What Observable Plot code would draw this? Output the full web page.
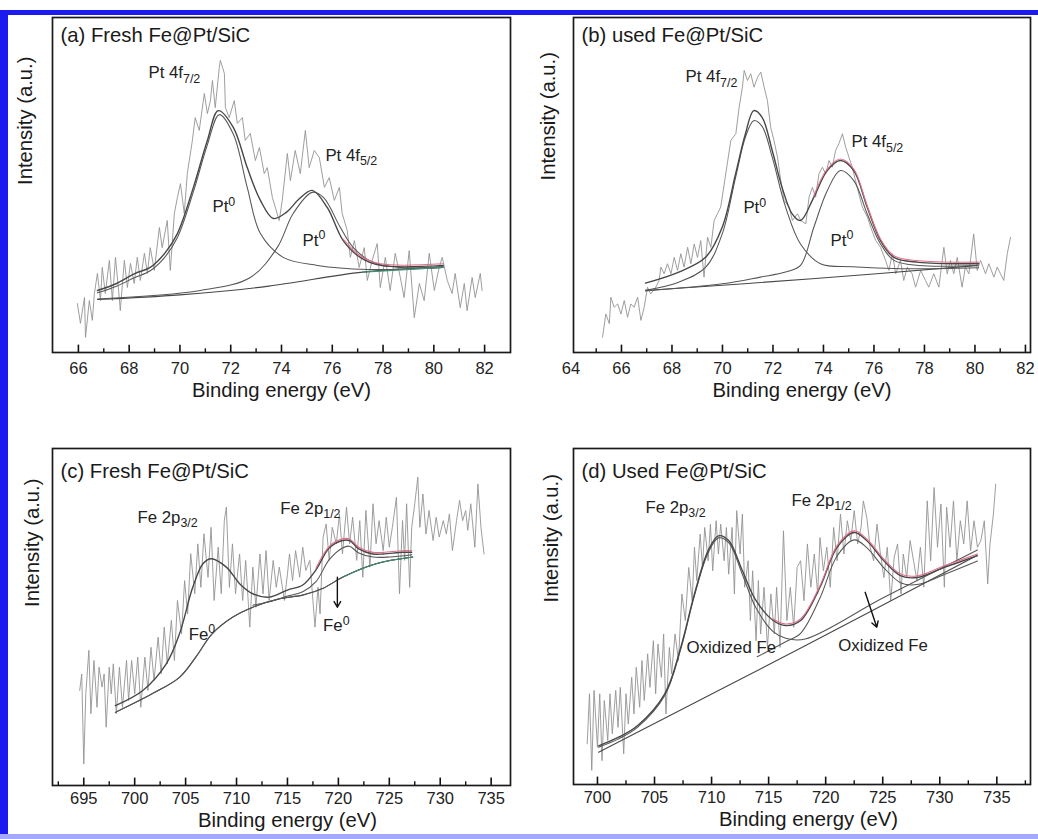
<!DOCTYPE html>
<html><head><meta charset="utf-8">
<script src="https://cdn.jsdelivr.net/npm/d3@7"></script>
<script src="https://cdn.jsdelivr.net/npm/@observablehq/plot@0.6"></script>
<style>
body{margin:0;background:#fff;}
#wrap{position:relative;width:1038px;height:839px;overflow:hidden;background:#fff;font-family:"Liberation Sans",Arial,sans-serif;}
.panel{position:absolute;}
.bar{position:absolute;}
</style></head><body>
<div id="wrap">
 <div class="bar" style="left:0;top:10px;width:1038px;height:5px;background:#1b1bf0"></div>
 <div class="bar" style="left:0;top:10px;width:8px;height:829px;background:#1b1bf0"></div>
 <div class="bar" style="left:0;top:834px;width:1038px;height:5px;background:#a4a8ff"></div>
</div>
<script>
// ---------------- DATA (binding energy eV, intensity a.u.) ----------------
const rawA = [[65.96,14.6],[66.08,8.7],[66.24,16.4],[66.28,4.5],[66.43,15.5],[66.55,9.6],[66.63,17.6],[66.75,23.6],[66.87,15.5],[66.94,25.4],[67.06,17.6],[67.22,27.5],[67.34,15.5],[67.46,28.4],[67.61,16.4],[67.65,12.5],[67.81,27.5],[67.93,19.4],[68.05,26.6],[68.2,20.6],[68.32,28.4],[68.44,21.5],[68.6,29.6],[68.72,23.6],[68.83,31.3],[68.99,24.5],[69.19,37.3],[69.3,31.3],[69.5,39.4],[69.62,24.5],[69.78,41.5],[69.9,46.3],[70.02,50.4],[70.17,41.5],[70.29,53.4],[70.49,63.3],[70.6,70.1],[70.76,66.3],[70.96,77.3],[71.08,71.3],[71.2,75.2],[71.28,81.2],[71.39,73.1],[71.55,85.1],[71.59,87.2],[71.75,83.3],[71.79,73.1],[71.94,70.1],[72.14,75.2],[72.26,68.4],[72.46,70.1],[72.57,63.3],[72.77,65.4],[72.97,57.3],[73.13,61.2],[73.32,53.4],[73.44,55.2],[73.64,46.3],[73.91,39.4],[74.03,45.4],[74.23,59.4],[74.35,51.3],[74.54,60.3],[74.74,53.4],[74.94,66.3],[75.09,55.2],[75.29,60.3],[75.49,58.2],[75.69,49.3],[75.88,52.2],[76.08,45.4],[76.28,49.3],[76.39,41.5],[76.59,36.4],[76.71,28.4],[76.87,33.4],[77.06,25.4],[77.26,31.3],[77.38,21.5],[77.57,27.5],[77.77,32.5],[77.89,19.4],[78.09,28.4],[78.28,18.5],[78.48,29.6],[78.68,22.4],[78.83,16.4],[79.03,30.4],[79.23,10.4],[79.43,20.6],[79.62,15.5],[79.82,29.6],[80.02,18.5],[80.21,25.4],[80.33,28.4],[80.53,21.5],[80.72,17.6],[80.84,23.6],[81.04,13.4],[81.2,20.6],[81.31,12.5],[81.51,22.4],[81.63,16.4],[81.83,23.6],[81.9,18.5]];
const envA = [[66.75,18.5],[67.5,20.6],[68.2,23.5],[68.83,25.4],[69.4,29.6],[69.9,35.5],[70.53,49.3],[71.08,63.3],[71.51,72.2],[72.1,67.2],[72.65,55.2],[73.17,45.4],[73.68,40],[74.2,41.9],[74.7,45.9],[75.21,48.4],[75.8,43.3],[76.43,33.4],[77.1,28.4],[77.9,26],[80.37,26]];
const pk1A = [[66.75,17.8],[67.5,19.8],[68.2,22.3],[68.83,24.4],[69.4,28.4],[69.9,34.3],[70.53,48],[71.08,62],[71.55,71],[72.1,65.2],[72.65,49.3],[73.17,35.5],[74.07,28.4],[75.41,26],[77.38,24.8],[80.37,25.4]];
const pk2A = [[66.75,16],[70.8,18.5],[72.77,22.4],[73.83,31.3],[74.46,41.5],[75.21,47.8],[75.65,46.3],[76.32,37.3],[76.83,31.3],[77.61,26.9],[78.68,25.4],[80.37,25.7]];
const bgA = [[66.75,15.8],[70,17.2],[73.5,19.8],[77.2,24],[80.37,25.4]];

const rawB = [[65.25,4.6],[65.38,11.5],[65.52,8.6],[65.58,16.5],[65.71,13.5],[65.85,14.5],[65.98,11.5],[66.11,15.5],[66.24,10.5],[66.37,14.5],[66.5,13.5],[66.64,16.5],[66.77,9.6],[66.9,13.5],[67.03,19.5],[67.16,17.5],[67.36,19.5],[67.49,21.5],[67.56,25.5],[67.69,23.5],[67.82,26.5],[67.96,23.5],[68.09,28.4],[68.22,24.5],[68.35,29.5],[68.48,25.5],[68.62,31.4],[68.75,26.5],[68.88,32.4],[69.01,28.4],[69.14,33.4],[69.27,22.5],[69.41,34.4],[69.54,31.4],[69.67,39.4],[69.8,41.4],[69.93,43.4],[70.13,53.3],[70.33,63.3],[70.53,65.3],[70.66,73.2],[70.79,79.2],[70.86,84.2],[70.99,81.2],[71.12,83.2],[71.25,79.2],[71.39,82.2],[71.52,83.7],[71.65,79.2],[71.78,75.2],[71.91,67.2],[72.04,63.3],[72.18,58.3],[72.31,51.3],[72.44,45.4],[72.64,43.4],[72.77,39.4],[72.97,41.4],[73.1,39.4],[73.3,38.4],[73.43,46.4],[73.56,49.3],[73.69,46.4],[73.82,53.3],[73.96,55.3],[74.09,53.3],[74.22,57.3],[74.35,55.3],[74.48,60.3],[74.61,62.3],[74.75,65.3],[74.88,61.3],[75.01,58.3],[75.14,55.3],[75.27,51.3],[75.4,47.4],[75.54,43.4],[75.74,40.4],[75.87,37.4],[76.07,33.4],[76.26,31.4],[76.46,27.5],[76.59,24.5],[76.73,29.5],[76.86,23.5],[77.05,27.5],[77.18,21.5],[77.32,25.5],[77.51,23.5],[77.65,19.5],[77.85,24.5],[78.04,21.5],[78.17,19.5],[78.37,23.5],[78.57,19.5],[78.77,31.4],[78.9,23.5],[79.03,27.5],[79.16,23.5],[79.3,28.4],[79.49,19.5],[79.62,25.5],[79.76,23.5],[79.95,35.4],[80.09,24.5],[80.22,27.5],[80.42,23.5],[80.55,26.5],[80.75,22.5],[80.88,25.5],[81.01,23.5],[81.14,21.5],[81.28,29.5],[81.41,34.4]];
const envB = [[66.95,20.7],[68.27,24],[69.33,28.4],[69.99,37.4],[70.52,53.3],[70.91,65.3],[71.24,72.2],[71.57,70.2],[71.97,60.3],[72.36,49.3],[72.76,41.4],[73.09,39.4],[73.62,46.4],[74.15,54.3],[74.67,57.3],[75.2,54.3],[75.73,43.4],[76.26,33.4],[76.79,28.4],[77.77,26.9],[80.14,26.5]];
const pk1B = [[66.95,18.6],[68.27,21],[69.33,25.4],[69.99,35.4],[70.52,52.3],[70.91,64.3],[71.24,69.2],[71.57,67.5],[71.97,58.3],[72.5,43.4],[73.09,32.4],[73.88,26.5],[75.13,25.6],[77.1,25],[80.14,25.3]];
const pk2B = [[66.95,18.4],[70,20.5],[71.5,22.5],[72.5,24],[73.09,26],[73.62,37.4],[74.15,48.3],[74.67,54.3],[75.2,51.3],[75.73,41.4],[76.26,32.4],[76.79,27.5],[77.77,26],[80.14,26]];
const bgB = [[66.95,18.5],[73.55,22],[80.14,26]];

const rawC = [[694.6,28.2],[694.8,33.1],[695.0,6.4],[695.2,27.2],[695.5,40.1],[695.7,21.3],[696.0,37.1],[696.3,23.2],[696.5,35.1],[696.8,29.2],[697.0,33.1],[697.2,17.3],[697.5,35.1],[697.7,27.2],[697.9,36.1],[698.2,21.3],[698.5,35.1],[698.8,23.2],[699.2,37.1],[699.4,25.2],[699.7,37.1],[700.0,27.2],[700.3,38.1],[700.6,23.2],[701.0,38.1],[701.3,28.2],[701.6,41],[701.9,31.2],[702.3,44],[702.6,33.1],[702.9,47],[703.2,36.1],[703.6,49],[703.9,37.1],[704.2,54.9],[704.6,45],[704.9,60.8],[705.2,50.9],[705.5,68.8],[705.9,56.9],[706.2,71.7],[706.5,58.8],[706.8,74.7],[707.2,61.8],[707.5,76.6],[707.8,54.9],[708.2,70.7],[708.5,56.9],[708.8,78.6],[709.0,82.6],[709.3,58.8],[709.6,71.7],[709.9,56.9],[710.3,68.7],[710.6,54.9],[710.9,66.8],[711.3,47],[711.6,64.8],[711.9,52.9],[712.3,68.7],[712.6,56.9],[712.9,69.7],[713.2,54.9],[713.6,66.8],[713.9,58.8],[714.2,64.8],[714.7,54.9],[715.0,62.8],[715.2,68.7],[715.5,60.8],[715.8,69.7],[716.2,61.8],[716.5,70.7],[716.8,63.8],[717.2,66.8],[717.5,54.9],[717.7,47],[718.0,58.8],[718.2,50.9],[718.5,73.7],[718.8,77.6],[719.1,66.8],[719.4,76.6],[719.8,71.7],[720.1,80.6],[720.4,68.7],[720.8,82.6],[721.1,71.7],[721.4,79.6],[721.8,66.8],[722.1,78.6],[722.4,61.8],[722.7,81.6],[723.1,64.8],[723.4,83.6],[723.7,71.7],[724.0,78.6],[724.4,69.7],[724.7,79.6],[725.0,70.7],[725.3,76.6],[725.7,85.5],[726.0,56.9],[726.3,78.6],[726.5,66.8],[726.7,83.6],[727.0,58.8],[727.2,76.6],[727.5,83.6],[727.8,91.5],[728.0,76.6],[728.3,86.5],[728.6,74.6],[728.9,81.6],[729.3,72.7],[729.6,79.6],[729.9,73.7],[730.3,78.6],[730.6,74.6],[730.9,80.6],[731.2,69.7],[731.6,78.6],[731.9,84.6],[732.2,78.6],[732.5,81.6],[732.7,75.7],[733.0,83.6],[733.4,70.7],[733.7,89.5],[734.0,76.6],[734.3,68.7]];
const envC = [[698.1,23.7],[700.8,28.2],[703.1,36.1],[704.4,45],[705.7,58.8],[706.7,65.8],[707.5,67.3],[709.0,64.8],[710.3,59.9],[711.6,56.9],[713.2,55.9],[715.0,58],[716.5,59.5],[717.8,64],[719.1,70.5],[720.4,72.7],[721.1,72.7],[722.0,70.2],[723.4,68.7],[724.4,68.7],[726.3,69.2],[727.2,69.2]];
const compC = [[711.6,53.5],[713.2,54.5],[715.0,56.2],[716.5,57.5],[717.8,60.5],[719.1,67],[720.4,70.5],[721.1,71],[722.0,69],[723.4,67.8],[725,67.8],[727.2,68.5]];
const fe0C = [[698.1,21.7],[701.7,27.2],[704.4,32.1],[706.0,38.1],[707.6,45],[709.6,49.9],[711.6,52.9],[714.2,55.4],[716.5,56.5],[718.5,58.5],[720.4,61.8],[723.7,65.8],[727.3,67.8]];

const rawD = [[699.1,12.1],[699.3,27],[699.5,4.2],[699.7,28],[700.0,11.1],[700.2,27],[700.4,7.1],[700.6,25],[700.9,13.1],[701.1,27],[701.3,15.1],[701.6,28],[701.8,17],[702.0,28.9],[702.3,9.1],[702.5,27],[702.7,18],[703.0,31.9],[703.2,21],[703.4,34.9],[703.7,23],[703.9,36.9],[704.1,25],[704.4,38.9],[704.6,28.9],[704.9,42.8],[705.1,27],[705.3,41.8],[705.6,31.9],[705.8,44.8],[706.0,21],[706.3,40.8],[706.5,32.9],[706.8,44.8],[707.1,36.9],[707.4,56.7],[707.7,48.8],[708.0,64.6],[708.3,54.7],[708.5,70.6],[708.7,60.7],[709.0,74.5],[709.2,64.6],[709.4,76.5],[709.7,66.6],[709.9,77.5],[710.1,63.6],[710.4,78.5],[710.6,68.6],[710.8,77.5],[711.1,66.6],[711.3,76.5],[711.5,62.6],[711.8,76.5],[712.0,56.7],[712.2,81.5],[712.5,68.6],[712.7,80.5],[712.9,58.7],[713.2,66.6],[713.4,48.8],[713.6,63.6],[713.9,42.8],[714.1,60.7],[714.3,44.8],[714.6,58.7],[714.9,40.8],[715.2,56.7],[715.5,44.8],[715.7,58.7],[716.0,40.8],[716.3,75.5],[716.6,48.8],[716.9,58.7],[717.2,46.8],[717.5,64.6],[717.8,66.6],[718.1,54.7],[718.4,71.6],[718.7,58.7],[719.0,68.6],[719.3,56.7],[719.5,73.5],[719.8,63.6],[720.1,70.6],[720.4,58.7],[720.7,76.5],[721.0,66.6],[721.3,80.5],[721.6,68.6],[721.9,78.5],[722.2,72.6],[722.5,81.5],[722.8,71.6],[723.1,76.5],[723.3,84.4],[723.6,79.5],[723.9,70.6],[724.2,66.6],[724.5,77.5],[724.8,68.6],[725.1,61.6],[725.4,70.6],[725.7,54.7],[726.0,67.6],[726.3,71.6],[726.6,56.7],[726.8,68.6],[727.1,61.6],[727.4,72.6],[727.7,66.6],[728.0,60.7],[728.3,70.6],[728.6,58.7],[728.9,84.4],[729.2,66.6],[729.5,88.4],[729.8,70.6],[730.1,83.5],[730.4,58.7],[730.6,82.5],[730.9,70.6],[731.2,84.4],[731.5,66.6],[731.8,78.5],[732.1,71.6],[732.4,84.4],[732.7,69.6],[733.0,78.5],[733.3,70.6],[733.6,72.6],[733.9,78.5],[734.2,59.7],[734.4,71.6],[734.7,80.5],[734.9,89.4]];
const envD = [[700.1,11.5],[701.8,14],[703.5,17.5],[705.9,27],[707.3,40.8],[708.5,56.7],[709.7,69.6],[710.6,74],[711.5,72.6],[712.7,63.6],[713.9,54.7],[715.4,48.8],[716.5,47.3],[717.8,48.8],[719.5,58.7],[721.0,70.6],[722.5,75],[723.6,72.6],[725.1,66.6],[726.6,62.1],[728.0,61.6],[730.4,64.6],[733.3,68.1]];
const ox1D = [[700.1,11.1],[701.8,13.5],[703.5,17],[705.9,26.5],[707.3,40.3],[708.5,56.2],[709.7,69],[710.6,73.4],[711.5,72],[712.7,62.5],[713.9,52.5],[715.4,45.5],[716.5,43.5],[718.2,43.3],[725,55.5],[733.3,69.8]];
const ox2D = [[714,38],[715.4,40.5],[716.5,42.5],[717.8,45],[719.5,55.5],[721.0,68],[722.5,72.8],[723.6,70.5],[725.1,64.5],[726.6,60],[728.0,59.5],[730.4,62.5],[733.3,66.5]];
const bgD = [[700.1,9.6],[718.2,41.3],[733.3,68.2]];

const ticksA = [66,68,70,72,74,76,78,80,82], minorA = [67,69,71,73,75,77,79,81];
const ticksB = [64,66,68,70,72,74,76,78,80,82], minorB = [65,67,69,71,73,75,77,79,81];
const ticksC = [695,700,705,710,715,720,725,730,735], minorC = [692.5,697.5,702.5,707.5,712.5,717.5,722.5,727.5,732.5];
const ticksD = [700,705,710,715,720,725,730,735], minorD = [702.5,707.5,712.5,717.5,722.5,727.5,732.5,737.5];

// ---------------- RENDER ----------------
const X = d => d[0], Y = d => d[1];
const FIT = "#474747", RAW = "#939393", RED = "#e0708a", GREEN = "#3f8f73";

function richText(svg) {
  svg.querySelectorAll("text").forEach(t => {
    const s = t.textContent;
    if (!/[_^]\{/.test(s)) return;
    t.textContent = "";
    const re = /([_^])\{([^}]*)\}|([^_^]+)/g;
    let m;
    while ((m = re.exec(s))) {
      const ts = document.createElementNS("http://www.w3.org/2000/svg", "tspan");
      if (m[3] !== undefined) ts.textContent = m[3];
      else {
        ts.textContent = m[2];
        ts.setAttribute("font-size", "74%");
        ts.setAttribute("dy", m[1] === "_" ? "0.36em" : "-0.52em");
      }
      t.appendChild(ts);
    }
  });
}

function panel(c) {
  const line = (data, o) => Plot.line(data, {x: X, y: Y, curve: "catmull-rom", stroke: FIT, strokeWidth: 1.25, ...o});
  const marks = [
    Plot.line(c.raw, {x: X, y: Y, stroke: RAW, strokeWidth: 0.9}),
    line(c.bg, {strokeWidth: 1.1}),
    ...c.comps.map(d => line(d, {strokeWidth: 1.05, stroke: "#555"})),
    line(c.env, {strokeWidth: 1.4}),
    line(c.env.filter(d => d[0] >= c.redFrom), {stroke: RED, strokeWidth: 1.1, dy: -1.6}),
    line(c.greenData.filter(d => d[0] >= c.greenFrom), {stroke: GREEN, strokeWidth: 1.1}),
    Plot.ruleX(c.majors.filter(v => v > c.dom[0] && v < c.dom[1]), {x: d => d, y1: () => 0, y2: () => 2.2, stroke: "#111", strokeWidth: 1.6}),
    Plot.ruleX(c.minors.filter(v => v > c.dom[0] && v < c.dom[1]), {x: d => d, y1: () => 0, y2: () => 1.1, stroke: "#111", strokeWidth: 1.4}),
    Plot.axisX(c.majors, {tickSize: 0, tickPadding: c.tickPad, fontSize: 16.5, label: null, tickFormat: d => String(d), fill: "#222"}),
    Plot.frame({stroke: "#1a1a1a", strokeWidth: 1.7}),
    Plot.text([c.title], {frameAnchor: "top-left", dx: 8, dy: c.titleDy, lineAnchor: "top", textAnchor: "start", fontSize: 20.3, fill: "#1a1a1a"}),
    Plot.text(["Intensity (a.u.)"], {frameAnchor: "left", rotate: -90, dx: c.yDx, dy: c.yDy, fontSize: 20.3, fill: "#1a1a1a"}),
    Plot.text(["Binding energy (eV)"], {frameAnchor: "bottom", dx: c.xDx, dy: c.xDy, lineAnchor: "top", fontSize: 20.3, fill: "#1a1a1a"}),
    Plot.text(c.notes, {x: "x", y: "y", text: "t", textAnchor: "start", lineAnchor: "bottom", fontSize: 16.8, fill: "#222"})
  ];
  if (c.arrow) marks.push(Plot.arrow([c.arrow], {x1: "x1", y1: "y1", x2: "x2", y2: "y2", stroke: "#111", strokeWidth: 1.4, headLength: 7}));
  const svg = Plot.plot({
    width: c.w, height: c.h,
    marginTop: c.m[0], marginRight: c.m[1], marginBottom: c.m[2], marginLeft: c.m[3],
    x: {domain: c.dom, label: null},
    y: {domain: [0, 100], axis: null},
    style: {fontFamily: '"Liberation Sans", Arial, sans-serif', background: "none", overflow: "visible"},
    marks
  });
  richText(svg);
  svg.classList.add("panel");
  svg.style.left = c.left + "px";
  svg.style.top = c.top + "px";
  svg.style.position = "absolute";
  document.getElementById("wrap").appendChild(svg);
}

panel({left: 0, top: 0, w: 519, h: 420, m: [17, 9, 68, 52], dom: [64.98, 83.02],
  raw: rawA, env: envA, comps: [pk1A, pk2A], bg: bgA, redFrom: 76.2, greenData: bgA, greenFrom: 77,
  majors: ticksA, minors: minorA, tickPad: 10,
  title: "(a) Fresh Fe@Pt/SiC", titleDy: 10, yDx: -27, yDy: 0, xDx: 0, xDy: 30,
  notes: [{t: "Pt 4f_{7/2}", x: 68.76, y: 81.8}, {t: "Pt^{0}", x: 71.28, y: 41.8},
          {t: "Pt 4f_{5/2}", x: 75.73, y: 57.3}, {t: "Pt^{0}", x: 74.83, y: 31.9}]});

panel({left: 519, top: 0, w: 519, h: 420, m: [17, 8, 68, 54], dom: [64.1, 82.2],
  raw: rawB, env: envB, comps: [pk1B, pk2B], bg: bgB, redFrom: 73.3, greenData: bgB, greenFrom: 76.8,
  majors: ticksB, minors: minorB, tickPad: 10,
  title: "(b) used Fe@Pt/SiC", titleDy: 10, yDx: -25, yDy: -4.5, xDx: 0, xDy: 30,
  notes: [{t: "Pt 4f_{7/2}", x: 68.54, y: 80.6}, {t: "Pt^{0}", x: 70.83, y: 41.5},
          {t: "Pt 4f_{5/2}", x: 75.11, y: 61.2}, {t: "Pt^{0}", x: 74.28, y: 31.9}]});

panel({left: 0, top: 420, w: 519, h: 419, m: [28, 9, 54, 52], dom: [691.93, 736.9],
  raw: rawC, env: envC, comps: [compC, fe0C], bg: fe0C, redFrom: 717.6, greenData: fe0C, greenFrom: 719,
  majors: ticksC, minors: minorC, tickPad: 7, 
  title: "(c) Fresh Fe@Pt/SiC", titleDy: 15, yDx: -20, yDy: -10, xDx: 6, xDy: 27,
  notes: [{t: "Fe 2p_{3/2}", x: 700.28, y: 78}, {t: "Fe 2p_{1/2}", x: 714.3, y: 80.7},
          {t: "Fe^{0}", x: 705.3, y: 43.3}, {t: "Fe^{0}", x: 718.5, y: 45.8}],
  arrow: {x1: 719.9, y1: 61.8, x2: 719.9, y2: 52.9}});

panel({left: 519, top: 420, w: 519, h: 419, m: [28, 8, 55, 54], dom: [697.9, 737.95],
  raw: rawD, env: envD, comps: [ox1D, ox2D], bg: bgD, redFrom: 714, greenData: bgD, greenFrom: 724,
  majors: ticksD, minors: minorD, tickPad: 7,
  title: "(d) Used Fe@Pt/SiC", titleDy: 15, yDx: -22, yDy: -14, xDx: 6.5, xDy: 27,
  notes: [{t: "Fe 2p_{3/2}", x: 704.2, y: 80.9}, {t: "Fe 2p_{1/2}", x: 717.0, y: 83},
          {t: "Oxidized Fe", x: 707.8, y: 39}, {t: "Oxidized Fe", x: 721.1, y: 39.8}],
  arrow: {x1: 723.46, y1: 57.2, x2: 724.48, y2: 46.8}});
</script>
</body></html>
